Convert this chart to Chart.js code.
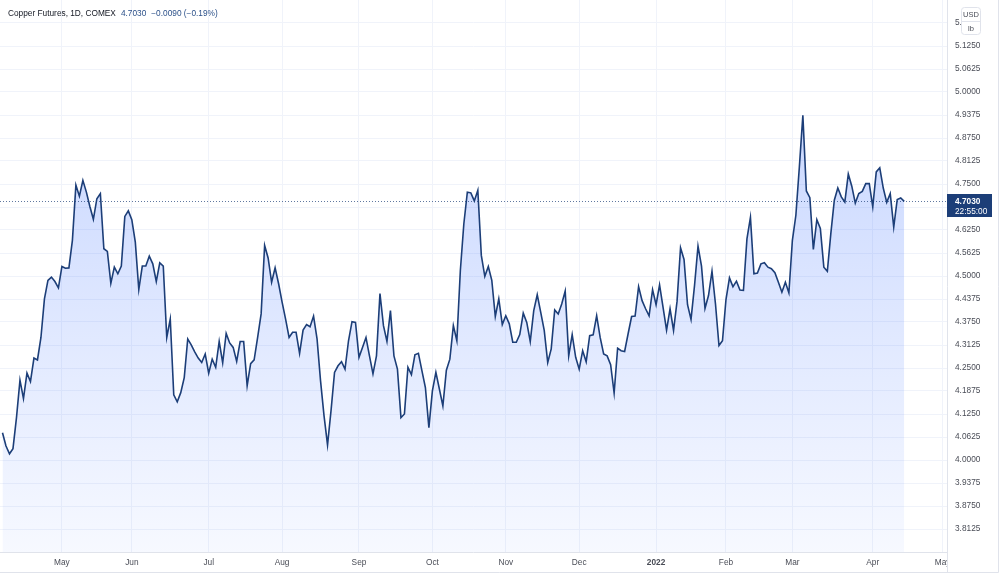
<!DOCTYPE html>
<html>
<head>
<meta charset="utf-8">
<title>Copper Futures, 1D, COMEX</title>
<script src="https://cdn.jsdelivr.net/npm/chart.js@4.4.1/dist/chart.umd.min.js"></script>
<style>
  html, body { margin: 0; padding: 0; background: #ffffff; }
  .chart__wrap { position: relative; width: 1000px; height: 575px; }
</style>
</head>
<body>
<div class="chart__wrap"><canvas id="copperChart" width="1000" height="575"></canvas></div>
<script>
//////// Data ///////////////////

// daily closes, one per trading day (index 0 = early Apr 2021)
const closes = [
  4.074, 4.038, 4.017, 4.031, 4.115, 4.217, 4.167, 4.236, 4.213, 4.277,
  4.272, 4.333, 4.438, 4.488, 4.497, 4.485, 4.468, 4.526, 4.521, 4.522,
  4.597, 4.747, 4.717, 4.760, 4.728, 4.689, 4.654, 4.710, 4.724, 4.574,
  4.567, 4.480, 4.524, 4.506, 4.527, 4.662, 4.677, 4.653, 4.592, 4.463,
  4.527, 4.527, 4.554, 4.533, 4.485, 4.536, 4.527, 4.333, 4.383, 4.177,
  4.158, 4.183, 4.224, 4.329, 4.313, 4.294, 4.277, 4.265, 4.288, 4.236,
  4.274, 4.252, 4.322, 4.264, 4.344, 4.318, 4.306, 4.268, 4.322, 4.322,
  4.202, 4.262, 4.272, 4.333, 4.397, 4.583, 4.549, 4.483, 4.522, 4.479,
  4.429, 4.383, 4.333, 4.347, 4.347, 4.290, 4.353, 4.368, 4.362, 4.391,
  4.329, 4.215, 4.120, 4.041, 4.134, 4.238, 4.256, 4.267, 4.247, 4.324,
  4.376, 4.374, 4.279, 4.306, 4.333, 4.283, 4.234, 4.283, 4.452, 4.365,
  4.322, 4.406, 4.283, 4.247, 4.115, 4.125, 4.252, 4.232, 4.286, 4.290,
  4.243, 4.197, 4.088, 4.188, 4.238, 4.193, 4.147, 4.244, 4.274, 4.365,
  4.324, 4.515, 4.642, 4.728, 4.726, 4.704, 4.733, 4.556, 4.499, 4.526,
  4.488, 4.390, 4.438, 4.368, 4.392, 4.370, 4.320, 4.320, 4.341, 4.399,
  4.374, 4.322, 4.406, 4.449, 4.401, 4.352, 4.265, 4.302, 4.408, 4.397,
  4.424, 4.459, 4.283, 4.341, 4.279, 4.247, 4.297, 4.267, 4.338, 4.340,
  4.392, 4.333, 4.288, 4.283, 4.259, 4.182, 4.304, 4.297, 4.295, 4.343,
  4.390, 4.391, 4.471, 4.433, 4.411, 4.392, 4.463, 4.422, 4.476, 4.415,
  4.353, 4.411, 4.352, 4.431, 4.577, 4.545, 4.422, 4.382, 4.474, 4.581,
  4.527, 4.412, 4.447, 4.513, 4.424, 4.311, 4.324, 4.436, 4.495, 4.471,
  4.486, 4.462, 4.461, 4.601, 4.659, 4.506, 4.508, 4.533, 4.536, 4.524,
  4.520, 4.509, 4.483, 4.456, 4.483, 4.454, 4.597, 4.665, 4.797, 4.937,
  4.731, 4.713, 4.572, 4.653, 4.629, 4.524, 4.513, 4.615, 4.706, 4.739,
  4.715, 4.701, 4.777, 4.744, 4.698, 4.724, 4.730, 4.751, 4.751, 4.688,
  4.783, 4.794, 4.739, 4.700, 4.724, 4.633, 4.708, 4.712, 4.703,
];

// first trading day of each month (index into closes)
const monthStarts = [17, 37, 59, 80, 102, 123, 144, 165, 187, 207, 226, 249, 269];
const monthLabels = ["May", "Jun", "Jul", "Aug", "Sep", "Oct", "Nov", "Dec", "2022", "Feb", "Mar", "Apr", "May"];

const priceTicks = [
  3.8125, 3.875, 3.9375, 4.0, 4.0625, 4.125, 4.1875, 4.25, 4.3125, 4.375, 4.4375, 4.5,
  4.5625, 4.625, 4.6875, 4.75, 4.8125, 4.875, 4.9375, 5.0, 5.0625, 5.125, 5.1875,
];

const chartTitle = "Copper Futures, 1D, COMEX";
const lastTime = "22:55:00";
const unitTop = "USD";
const unitBottom = "lb";

//////// Style ///////////////////
const FONT = "'Liberation Sans', Arial, sans-serif";
const FONT_SIZE = 8.3;
const LINE_COLOR = "#1c3e78";
const TEXT_COLOR = "#4a4d57";
const GRID_COLOR = "#f0f3fa";
const BORDER_COLOR = "#e0e3eb";

const points = closes.map((v, i) => ({ x: i, y: v }));
const lastVal = closes[closes.length - 1];
const prevVal = closes[closes.length - 2];

const fmtSigned = (n, d) => (n < 0 ? "\u2212" : "+") + Math.abs(n).toFixed(d);

////////// Overlay plugin (legend, price label, frame) //////////
const tvOverlay = {
  id: "tvOverlay",
  beforeDraw(chart) {
    const { ctx } = chart;
    ctx.save();
    ctx.fillStyle = "#ffffff";
    ctx.fillRect(0, 0, chart.width, chart.height);
    ctx.restore();
  },
  afterDatasetsDraw(chart) {
    const { ctx, chartArea } = chart;
    const y = Math.round(chart.scales.y.getPixelForValue(lastVal)) + 0.5;
    ctx.save();
    ctx.strokeStyle = "rgba(28, 62, 120, 0.7)";
    ctx.lineWidth = 1;
    ctx.setLineDash([1, 2]);
    ctx.beginPath();
    ctx.moveTo(chartArea.left, y);
    ctx.lineTo(chartArea.right, y);
    ctx.stroke();
    ctx.restore();
  },
  afterDraw(chart) {
    const { ctx, chartArea } = chart;
    const right = chartArea.right;
    const bottom = chartArea.bottom;
    ctx.save();

    // corner below the price scale
    ctx.fillStyle = "#ffffff";
    ctx.fillRect(right, bottom, chart.width - right, chart.height - bottom);

    // frame and scale separators
    ctx.strokeStyle = BORDER_COLOR;
    ctx.lineWidth = 1;
    ctx.beginPath();
    ctx.moveTo(right + 0.5, 0);
    ctx.lineTo(right + 0.5, 573);
    ctx.moveTo(0, bottom + 0.5);
    ctx.lineTo(right, bottom + 0.5);
    ctx.moveTo(998.5, 0);
    ctx.lineTo(998.5, 572.5);
    ctx.moveTo(0, 572.5);
    ctx.lineTo(998.5, 572.5);
    ctx.stroke();

    // last price label
    const py = chart.scales.y.getPixelForValue(lastVal);
    ctx.fillStyle = LINE_COLOR;
    ctx.fillRect(right, Math.round(py) - 7, 45, 23);
    ctx.fillStyle = "#ffffff";
    ctx.textAlign = "left";
    ctx.textBaseline = "middle";
    ctx.font = "bold " + FONT_SIZE + "px " + FONT;
    ctx.fillText(lastVal.toFixed(4), right + 8, py);
    ctx.font = FONT_SIZE + "px " + FONT;
    ctx.fillText(lastTime, right + 8, py + 10.5);

    // unit box
    ctx.fillStyle = "#ffffff";
    ctx.strokeStyle = BORDER_COLOR;
    ctx.beginPath();
    ctx.roundRect(961.5, 7.5, 19, 27, 3);
    ctx.fill();
    ctx.stroke();
    ctx.beginPath();
    ctx.moveTo(961.5, 21.5);
    ctx.lineTo(980.5, 21.5);
    ctx.stroke();
    ctx.fillStyle = TEXT_COLOR;
    ctx.textAlign = "center";
    ctx.font = "7.5px " + FONT;
    ctx.fillText(unitTop, 971, 14.5);
    ctx.fillText(unitBottom, 971, 28.5);

    // legend
    const change = lastVal - prevVal;
    const pct = (change / prevVal) * 100;
    ctx.textAlign = "left";
    ctx.font = FONT_SIZE + "px " + FONT;
    let x = 8;
    ctx.fillStyle = "#131722";
    ctx.fillText(chartTitle, x, 13.5);
    x += ctx.measureText(chartTitle).width + 5;
    ctx.fillStyle = "#2b5089";
    const priceTxt = lastVal.toFixed(4);
    ctx.fillText(priceTxt, x, 13.5);
    x += ctx.measureText(priceTxt).width + 5;
    ctx.fillText(fmtSigned(change, 4) + " (" + fmtSigned(pct, 2) + "%)", x, 13.5);

    ctx.restore();
  },
};

const ctx = document.getElementById("copperChart");
const copperChart = new Chart(ctx, {
  type: "line",
  data: {
    datasets: [
      {
        label: chartTitle,
        data: points,
        borderColor: LINE_COLOR,
        borderWidth: 1.6,
        pointRadius: 0,
        tension: 0,
        fill: "start",
        backgroundColor: (context) => {
          const area = context.chart.chartArea;
          if (!area) return "rgba(41, 98, 255, 0.14)";
          const g = context.chart.ctx.createLinearGradient(0, area.top, 0, area.bottom);
          g.addColorStop(0, "rgba(41, 98, 255, 0.30)");
          g.addColorStop(1, "rgba(41, 98, 255, 0.04)");
          return g;
        },
      },
    ],
  },
  options: {
    responsive: false,
    animation: false,
    devicePixelRatio: 1,
    layout: { padding: 0 },
    scales: {
      x: {
        type: "linear",
        min: -0.715,
        max: 270.24,
        afterFit: (scale) => {
          scale.height = 23;
          scale.paddingLeft = 0;
          scale.paddingRight = 0;
        },
        afterBuildTicks: (scale) => {
          scale.ticks = monthStarts.map((v) => ({ value: v }));
        },
        grid: { color: GRID_COLOR, drawTicks: false },
        border: { display: false },
        ticks: {
          autoSkip: false,
          maxRotation: 0,
          padding: 6,
          color: TEXT_COLOR,
          font: (c) => ({
            family: FONT,
            size: FONT_SIZE,
            weight: c.tick && c.tick.value === monthStarts[8] ? "bold" : "normal",
          }),
          callback: (value) => monthLabels[monthStarts.indexOf(value)],
        },
      },
      y: {
        type: "linear",
        position: "right",
        min: 3.75,
        max: 5.25,
        afterFit: (scale) => {
          scale.width = 53;
          scale.paddingTop = 0;
          scale.paddingBottom = 0;
        },
        afterBuildTicks: (scale) => {
          scale.ticks = priceTicks.map((v) => ({ value: v }));
        },
        grid: { color: GRID_COLOR, drawTicks: false },
        border: { display: false },
        ticks: {
          padding: 8,
          color: TEXT_COLOR,
          font: { family: FONT, size: FONT_SIZE },
          callback: (value) => Number(value).toFixed(4),
        },
      },
    },
    plugins: {
      legend: { display: false },
      title: { display: false },
      tooltip: { enabled: false },
    },
  },
  plugins: [tvOverlay],
});
</script>
</body>
</html>
